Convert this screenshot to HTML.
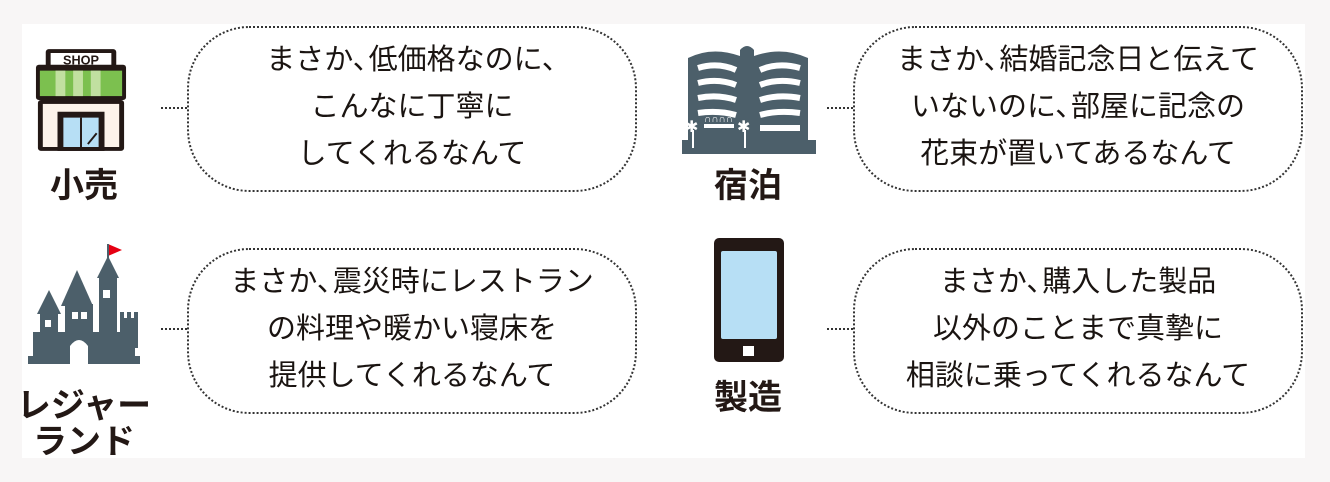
<!DOCTYPE html>
<html><head><meta charset="utf-8"><style>
html,body{margin:0;padding:0}
body{width:1330px;height:482px;background:#f8f6f6;position:relative;overflow:hidden;font-family:"Liberation Sans","Noto Sans CJK JP",sans-serif;color:#231815}
.panel{position:absolute;left:22px;top:24px;width:1283px;height:434px;background:#fff}
.b{position:absolute;width:450px;border:2px dotted #333;border-radius:62px;text-align:center;font-size:29px;line-height:47px;box-sizing:border-box;display:flex;flex-direction:column;justify-content:center;padding-bottom:4px;color:#1a1411}
.b div{white-space:nowrap}
.k{margin-right:-0.45em}
.c{position:absolute;width:26px;border-top:2px dotted #333}
.l{position:absolute;font-weight:bold;font-size:34px;text-align:center;line-height:40px}
svg{position:absolute}
</style></head><body>
<div class="panel"></div>

<!-- shop -->
<svg style="left:34px;top:48px" width="94" height="104" viewBox="0 0 96 104">
<rect x="12" y="0" width="72" height="22" rx="3" fill="#231815"/>
<rect x="17" y="4" width="62" height="14" fill="#fff"/>
<text x="48" y="16" font-size="13" font-weight="bold" text-anchor="middle" font-family="Liberation Sans" fill="#231815">SHOP</text>
<rect x="2" y="16" width="92" height="36" rx="3" fill="#231815"/>
<rect x="6" y="22" width="84" height="26" fill="#7cc04f"/>
<rect x="22" y="22" width="10" height="26" fill="#c1e0a0"/><rect x="40" y="22" width="10" height="26" fill="#c1e0a0"/><rect x="58" y="22" width="10" height="26" fill="#c1e0a0"/>
<rect x="4" y="52" width="88" height="52" rx="3" fill="#231815"/>
<rect x="9" y="56" width="78" height="44" fill="#fdf3ea"/>
<rect x="24" y="64" width="48" height="40" fill="#231815"/>
<rect x="30" y="70" width="36" height="30" fill="#b7dff5"/>
<line x1="48" y1="70" x2="48" y2="100" stroke="#231815" stroke-width="2"/>
<line x1="55" y1="97" x2="64" y2="86" stroke="#231815" stroke-width="2"/>
</svg>
<div class="l" style="left:44px;top:166px;width:80px">小売</div>
<div class="c" style="left:161px;top:107px"></div>
<div class="b" style="left:187px;top:26px;height:166px"><div>まさか<span class="k">、</span>低価格なのに<span class="k">、</span></div><div>こんなに丁寧に</div><div>してくれるなんて</div></div>

<!-- hotel -->
<svg style="left:682px;top:44px" width="134" height="110" viewBox="0 0 134 110">
<path d="M6 14 Q30 2 58 12 L58 6 Q65 -2 72 6 L72 12 Q100 2 126 14 L126 96 L134 96 L134 104 L0 104 L0 96 L6 96 Z" fill="#4c5f6a"/>
<g stroke="#fff" stroke-width="6" fill="none">
<path d="M16 24 Q36 18 54 26"/><path d="M16 39 Q36 34 54 41"/><path d="M16 54 Q36 50 54 56"/><path d="M16 69 Q36 66 54 71"/>
<path d="M78 26 Q96 18 118 24"/><path d="M78 41 Q96 34 118 39"/><path d="M78 56 Q96 50 118 54"/><path d="M78 71 Q96 66 118 69"/><path d="M78 84 L118 84"/><path d="M78 96 L118 96" stroke-width="0"/>
</g>
<rect x="22" y="80" width="30" height="4" fill="#fff"/>
<rect x="10" y="86" width="2" height="18" fill="#fff"/><rect x="62" y="86" width="2" height="18" fill="#fff"/>
<text x="3" y="88" font-size="16" fill="#fff">✱</text><text x="55" y="88" font-size="16" fill="#fff">✱</text>
<text x="22" y="78" font-size="10" fill="#fff">∩∩∩∩</text>
<rect x="0" y="104" width="134" height="6" fill="#4c5f6a"/>
</svg>
<div class="l" style="left:708px;top:166px;width:80px">宿泊</div>
<div class="c" style="left:827px;top:107px"></div>
<div class="b" style="left:853px;top:26px;height:166px"><div>まさか<span class="k">、</span>結婚記念日と伝えて</div><div>いないのに<span class="k">、</span>部屋に記念の</div><div>花束が置いてあるなんて</div></div>

<!-- castle -->
<svg style="left:25px;top:242px" width="118" height="122" viewBox="0 0 118 122">
<polygon points="83,2 97,8 83,14" fill="#e60012"/>
<line x1="83" y1="2" x2="83" y2="18" stroke="#4c5f6a" stroke-width="2"/>
<g fill="#4c5f6a">
<polygon points="83,14 72,36 94,36"/><rect x="74" y="34" width="18" height="60"/>
<polygon points="52,28 36,64 68,64"/><rect x="40" y="62" width="28" height="36"/>
<polygon points="24,48 12,72 36,72"/><rect x="15" y="70" width="18" height="30"/>
<rect x="95" y="76" width="18" height="30"/><rect x="95" y="70" width="4" height="8"/><rect x="102" y="70" width="4" height="8"/><rect x="109" y="70" width="4" height="8"/>
<rect x="8" y="90" width="102" height="26"/><rect x="3" y="114" width="112" height="8"/>
</g>
<g fill="#fff"><rect x="78" y="48" width="7" height="8"/><rect x="47" y="70" width="6" height="7"/><rect x="56" y="70" width="6" height="7"/><rect x="20" y="78" width="6" height="7"/>
<path d="M45 122 L45 104 Q54 92 63 104 L63 122 Z"/></g>
</svg>
<div class="l" style="left:14px;top:386px;width:140px">レジャー</div>
<div class="l" style="left:14px;top:422px;width:140px">ランド</div>
<div class="c" style="left:161px;top:328px"></div>
<div class="b" style="left:187px;top:248px;height:166px"><div>まさか<span class="k">、</span>震災時にレストラン</div><div>の料理や暖かい寝床を</div><div>提供してくれるなんて</div></div>

<!-- phone -->
<svg style="left:714px;top:238px" width="70" height="124" viewBox="0 0 70 124">
<rect x="0" y="0" width="70" height="124" rx="5" fill="#231815"/>
<rect x="7" y="13" width="56" height="88" rx="2" fill="#b7dff5"/>
<rect x="29" y="108" width="11" height="10" fill="#fff"/>
</svg>
<div class="l" style="left:708px;top:378px;width:80px">製造</div>
<div class="c" style="left:827px;top:328px"></div>
<div class="b" style="left:853px;top:248px;height:166px"><div>まさか<span class="k">、</span>購入した製品</div><div>以外のことまで真摯に</div><div>相談に乗ってくれるなんて</div></div>
</body></html>
